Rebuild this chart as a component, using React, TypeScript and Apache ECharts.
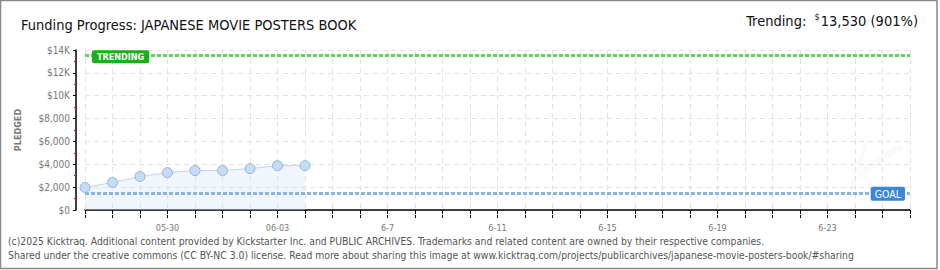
import React, { useEffect, useRef } from "react";
import * as echarts from "echarts";

const categories: string[] = [
  "05-27", "05-28", "05-29", "05-30", "05-31", "06-01", "06-02", "06-03",
  "06-04", "06-05", "06-06", "06-07", "06-08", "06-09", "06-10", "06-11",
  "06-12", "06-13", "06-14", "06-15", "06-16", "06-17", "06-18", "06-19",
  "06-20", "06-21", "06-22", "06-23", "06-24", "06-25", "06-26",
];
const xLabelDates: string[] = ["05-30", "06-03", "06-07", "06-11", "06-15", "06-19", "06-23"];
const xLabelTexts: string[] = ["05-30", "06-03", "6-7", "6-11", "6-15", "6-19", "6-23"];
const pledged: number[] = [1970, 2410, 2930, 3270, 3450, 3450, 3620, 3880, 3880];
const yTickLabels: string[] = ["$0", "$2,000", "$4,000", "$6,000", "$8,000", "$10K", "$12K", "$14K"];
const goal = 1500;
const trending = 13530;
const trendingPct = 901;

const FONT = "'DejaVu Sans Condensed', 'DejaVu Sans', sans-serif";

const K_PATH =
  "M20 0 C14 20 8 40 2 58 L7 58 C12 42 17 22 24 2 Z M10 34 C22 24 34 12 50 4 C54 2 58 4 56 8 C46 16 30 26 14 36 Z M16 34 C24 40 30 48 36 58 L42 58 C36 46 28 38 20 32 Z";

export default function App() {
  const ref = useRef<HTMLDivElement>(null);
  useEffect(() => {
    try {
      echarts.graphic.registerShape("kwatermark", echarts.graphic.extendPath(K_PATH, {}));
    } catch (e) {}
    const chart = echarts.init(ref.current!, null, { renderer: "svg" });
    chart.setOption({
      animation: false,
      backgroundColor: "#fff",
      textStyle: { fontFamily: FONT },
      grid: { left: 85, right: 30, top: 50, bottom: 60, containLabel: false },
      title: {
        text: "Funding Progress: JAPANESE MOVIE POSTERS BOOK",
        left: 16,
        top: 12,
        textStyle: { fontFamily: FONT, fontSize: 14.5, fontWeight: "normal", color: "#111" },
      },
      graphic: [
        {
          type: "rect",
          shape: { x: 0.5, y: 0.5, width: 936.5, height: 268 },
          style: { fill: "none", stroke: "#888", lineWidth: 1.5 },
          silent: true,
          z: 10,
        },
        {
          type: "kwatermark",
          x: 843,
          y: 142,
          scaleX: 1.05,
          scaleY: 1,
          style: { fill: "rgba(0,0,0,0.02)" },
          silent: true,
          z: 0,
        },
        {
          type: "text",
          right: 22,
          top: 12,
          style: {
            text: "{a|Trending:  }{s|$}{b|" + trending.toLocaleString("en-US") + " (" + trendingPct + "%)}",
            rich: {
              a: { fontFamily: FONT, fontSize: 14.5, fill: "#111" },
              s: { fontFamily: FONT, fontSize: 9, fill: "#111", verticalAlign: "top", padding: [0, 1, 8, 0] },
              b: { fontFamily: FONT, fontSize: 14.5, fill: "#111" },
            },
          },
        },
        {
          type: "text",
          left: 8,
          top: 236,
          style: {
            text: "(c)2025 Kicktraq. Additional content provided by Kickstarter Inc. and PUBLIC ARCHIVES. Trademarks and related content are owned by their respective companies.",
            fontFamily: FONT,
            fontSize: 10.3,
            fill: "#555",
          },
        },
        {
          type: "text",
          left: 8,
          top: 250,
          style: {
            text: "Shared under the creative commons (CC BY-NC 3.0) license. Read more about sharing this image at www.kicktraq.com/projects/publicarchives/japanese-movie-posters-book/#sharing",
            fontFamily: FONT,
            fontSize: 10.3,
            fill: "#555",
          },
        },
      ],
      xAxis: [
        {
          type: "category",
          data: categories,
          boundaryGap: false,
          offset: 8,
          axisLine: { show: true, lineStyle: { color: "#000", width: 1.5 } },
          axisTick: { show: true, interval: 0, length: 4, lineStyle: { color: "#000" } },
          axisLabel: {
            interval: (i: number, v: string) => xLabelDates.indexOf(v) >= 0,
            formatter: (v: string) => {
              const k = xLabelDates.indexOf(v);
              return k >= 0 ? xLabelTexts[k] : "";
            },
            color: "#777",
            fontSize: 9,
            margin: 5,
            fontFamily: FONT,
          },
          splitLine: { show: true, interval: 0, lineStyle: { color: "#e2e2e2", type: [5, 4] } },
        },
        {
          type: "category",
          data: categories,
          boundaryGap: false,
          position: "bottom",
          offset: 8,
          axisLine: { show: false },
          axisTick: { show: true, inside: true, interval: 0, length: 3, lineStyle: { color: "#000" } },
          axisLabel: { show: false },
          splitLine: { show: false },
        },
      ],
      yAxis: {
        type: "value",
        min: 0,
        max: 14000,
        interval: 2000,
        offset: 9,
        name: "PLEDGED",
        nameLocation: "middle",
        nameRotate: 90,
        nameGap: 54,
        nameTextStyle: { color: "#777", fontSize: 9, fontFamily: FONT, fontWeight: "bold" },
        axisLine: { show: true, lineStyle: { color: "#000", width: 1.5 } },
        axisTick: { show: true, length: 3, lineStyle: { color: "#000" } },
        minorTick: { show: true, splitNumber: 2, length: 2, lineStyle: { color: "#e00" } },
        axisLabel: {
          formatter: (v: number) => yTickLabels[Math.round(v / 2000)] ?? "",
          color: "#777",
          fontSize: 10,
          margin: 6,
          fontFamily: FONT,
        },
        splitLine: { show: true, lineStyle: { color: "#e2e2e2", type: [5, 4] } },
      },
      series: [
        {
          type: "line",
          data: pledged,
          symbol: "circle",
          symbolSize: 10,
          itemStyle: { color: "#c6dcf6", borderColor: "#95b3d8", borderWidth: 1 },
          lineStyle: { color: "#bcd5f0", width: 1 },
          areaStyle: { color: "rgba(214,230,248,0.5)" },
          markLine: {
            silent: true,
            symbol: "none",
            data: [
              {
                yAxis: trending,
                lineStyle: { color: "#5cd65c", type: [4, 2], width: 3 },
                label: {
                  formatter: "TRENDING",
                  position: "insideStartTop",
                  distance: [7, -8],
                  color: "#fff",
                  backgroundColor: "#19b019",
                  borderRadius: 2,
                  padding: [2, 5, 2, 5],
                  fontSize: 9,
                  fontWeight: "bold",
                  fontFamily: FONT,
                },
              },
              {
                yAxis: goal,
                lineStyle: { color: "#8ab4e2", type: [4, 2], width: 3 },
                label: {
                  formatter: "GOAL",
                  position: "insideEndTop",
                  distance: [5, -8],
                  color: "#fff",
                  backgroundColor: "#3b86d8",
                  borderRadius: 2,
                  padding: [2, 4, 1, 4],
                  fontSize: 10.5,
                  fontFamily: FONT,
                },
              },
            ],
          },
        },
      ],
    });
    return () => chart.dispose();
  }, []);
  return (
    <div
      ref={ref}
      style={{ position: "fixed", left: 0, top: 0, width: 940, height: 270 }}
    />
  );
}
